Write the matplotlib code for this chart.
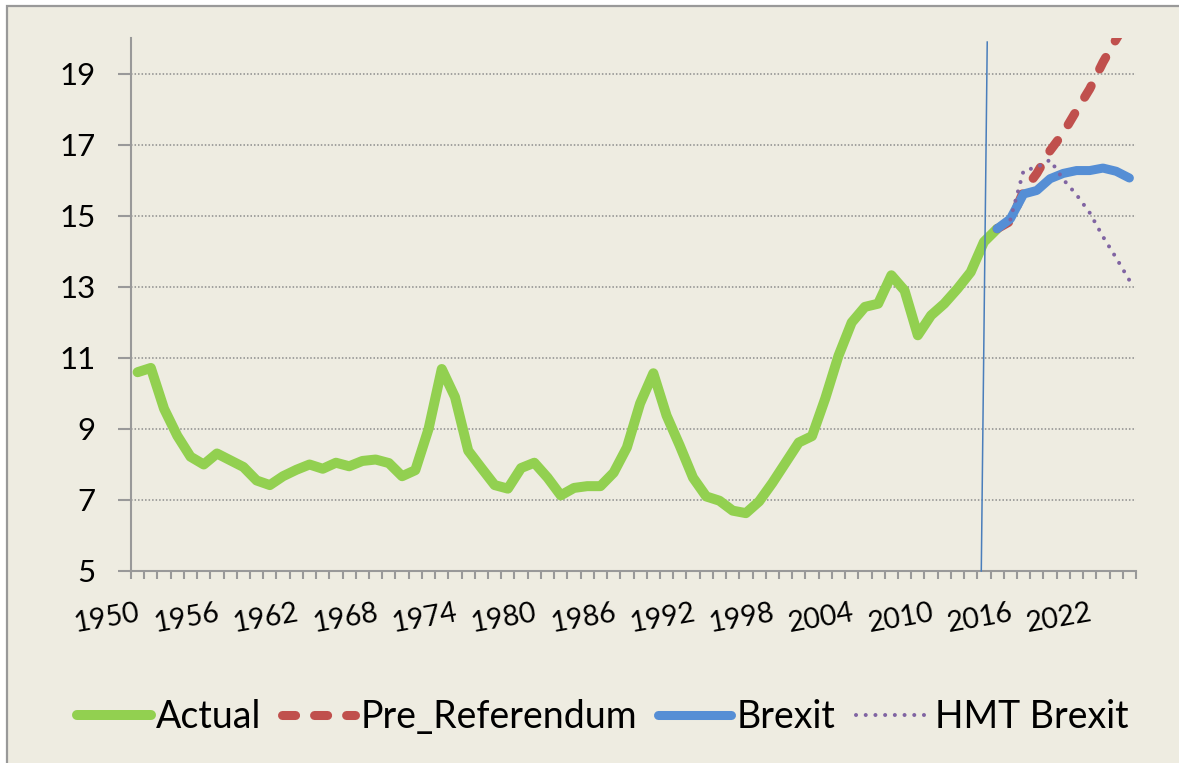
import matplotlib
matplotlib.use('Agg')
import matplotlib.pyplot as plt
from matplotlib.lines import Line2D
from matplotlib.patches import Rectangle
import numpy as np

# ---------------- data ----------------
actual_years = list(range(1950, 2016))
actual = [10.60, 10.72, 9.57, 8.81, 8.22, 8.00, 8.31, 8.12, 7.93, 7.55,
          7.42, 7.67, 7.85, 8.00, 7.88, 8.05, 7.95, 8.10, 8.14, 8.04,
          7.67, 7.84, 9.00, 10.69, 9.90, 8.39, 7.90, 7.42, 7.32, 7.90,
          8.05, 7.63, 7.13, 7.34, 7.39, 7.39, 7.77, 8.48, 9.72, 10.57,
          9.38, 8.53, 7.63, 7.10, 6.98, 6.70, 6.63, 6.96, 7.48, 8.05,
          8.62, 8.80, 9.86, 11.06, 12.00, 12.44, 12.53, 13.33, 12.90, 11.64,
          12.20, 12.53, 12.95, 13.42, 14.27, 14.64]

proj_years = list(range(2015, 2026))
pre_referendum = [14.64, 14.85, 15.70, 16.20, 16.84, 17.34, 17.97, 18.58, 19.33, 19.98, 20.60]
brexit = [14.64, 14.92, 15.62, 15.72, 16.05, 16.20, 16.28, 16.28, 16.35, 16.26, 16.07]

hmt_years = list(range(2016, 2026))
hmt_brexit = [14.90, 16.28, 16.37, 16.58, 16.03, 15.60, 15.09, 14.42, 13.82, 13.19]

label_years = list(range(1950, 2026, 6))
y_ticks = [5, 7, 9, 11, 13, 15, 17, 19]

# marker line (drawn shape) endpoints
ref_line_x = [2013.8, 2014.25]
ref_line_y = [5.0, 19.9]

series_names = ['Actual', 'Pre_Referendum', 'Brexit', 'HMT Brexit']

# ---------------- style ----------------
BG = '#EEECE1'
GREEN = '#92D050'
RED = '#C0504D'
BLUE = '#558ED5'
PURPLE = '#8064A2'
AXC = '#999999'
FONT = ['Lato', 'DejaVu Sans']

plt.rcParams['font.family'] = FONT

W, H = 1179, 763
fig = plt.figure(figsize=(W / 100, H / 100), dpi=100)
fig.patch.set_facecolor('white')

# chart area frame
frame = Rectangle((7.5 / W, -0.1), 1.2, 1.1 - 6.5 / H, transform=fig.transFigure,
                  facecolor=BG, edgecolor=AXC, linewidth=1.6, zorder=-10)
fig.patches.append(frame)

ax = fig.add_axes([131 / W, 1 - 571 / H, (1136 - 131) / W, (571 - 38.5) / H])
ax.set_facecolor('none')

ax.set_xlim(1949.5, 2025.5)
ax.set_ylim(5, 20)

for s in ['top', 'right']:
    ax.spines[s].set_visible(False)
for s in ['left', 'bottom']:
    ax.spines[s].set_color(AXC)
    ax.spines[s].set_linewidth(1.5)

ax.set_yticks(y_ticks)
ax.set_yticklabels([str(v) for v in y_ticks])
ax.tick_params(axis='y', which='major', length=9.4, width=1.5, color=AXC,
               pad=16, labelsize=22.5, direction='out')
for v in y_ticks[1:]:
    ax.axhline(v, color='#8c8c8c', linewidth=1.1, linestyle=(0, (1, 1.3)), zorder=1)

ax.set_xticks(label_years)
ax.set_xticklabels([str(y) for y in label_years])
ax.set_xticks(np.arange(1949.5, 2026, 1.0), minor=True)
ax.tick_params(axis='x', which='major', length=0, pad=21, labelsize=20.5)
ax.tick_params(axis='x', which='minor', length=6, width=1.5, color=AXC, direction='out')
for lab in ax.get_xticklabels():
    lab.set_rotation(10)
    lab.set_ha('right')
    lab.set_va('top')
    lab.set_rotation_mode('anchor')

# series
l_act, = ax.plot(actual_years, actual, color=GREEN, linewidth=7.2,
                 solid_capstyle='round', solid_joinstyle='round', zorder=3)
l_pre, = ax.plot(proj_years, pre_referendum, color=RED, linewidth=6.5,
                 linestyle=(0, (1.45, 2.1)), dash_capstyle='round',
                 dash_joinstyle='round', zorder=4)
l_brx, = ax.plot(proj_years, brexit, color=BLUE, linewidth=6.5,
                 solid_capstyle='round', solid_joinstyle='round', zorder=5)
l_hmt, = ax.plot(hmt_years, hmt_brexit, color=PURPLE, linewidth=2.9,
                 linestyle=(0, (0.01, 2.4)), dash_capstyle='round', zorder=6)

ax.plot(ref_line_x, ref_line_y, color='#4A7EBB', linewidth=1.1, zorder=7, clip_on=False)

fig.legend([l_act, l_pre, l_brx, l_hmt], series_names, loc='center',
           bbox_to_anchor=(603 / W, 1 - 717 / H), ncol=4, frameon=False,
           fontsize=27, handlelength=1.95, handletextpad=0.15, columnspacing=0.55,
           borderaxespad=0)

fig.savefig('out.png', dpi=100, facecolor=fig.get_facecolor())
